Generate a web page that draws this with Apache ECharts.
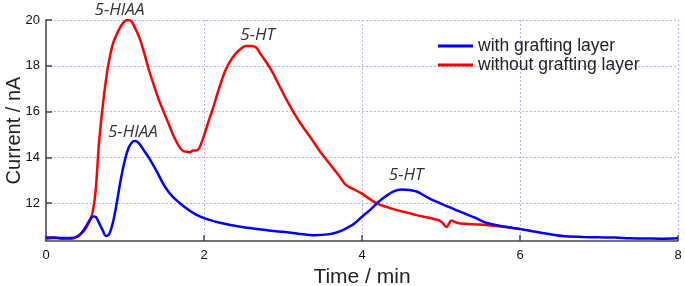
<!DOCTYPE html>
<html><head><meta charset="utf-8">
<script src="https://cdn.jsdelivr.net/npm/echarts@6/dist/echarts.min.js"></script>
<style>html,body{margin:0;padding:0;background:#fff}#c{width:685px;height:286px}</style>
</head><body><div id="c"></div>
<script>
const xTicks = [0, 2, 4, 6, 8];
const yTicks = [12, 14, 16, 18, 20];
const seriesNames = ['with grafting layer', 'without grafting layer'];

const blueT = [0,0.1,0.2,0.3,0.4,0.45,0.5,0.55,0.6,0.63,0.67,0.72,0.76,0.8,0.85,0.9,0.95,1.0,1.05,1.1,1.13,1.18,1.25,1.3,1.4,1.5,1.6,1.75,1.9,2.0,2.2,2.5,2.8,3.0,3.2,3.4,3.59,3.71,3.8,3.9,4.0,4.1,4.19,4.3,4.4,4.5,4.6,4.7,4.85,5.0,5.19,5.3,5.45,5.57,5.8,6.0,6.2,6.54,6.8,7.0,7.2,7.39,7.6,7.8,8.0];
const blueV = [10.5,10.5,10.48,10.48,10.55,10.7,10.95,11.25,11.42,11.4,11.15,10.8,10.57,10.65,11.2,12.1,13.1,13.9,14.45,14.7,14.72,14.6,14.25,14.0,13.4,12.75,12.3,11.85,11.5,11.35,11.15,10.95,10.82,10.75,10.67,10.6,10.65,10.76,10.9,11.1,11.41,11.7,12.0,12.3,12.52,12.6,12.58,12.5,12.21,11.98,11.7,11.55,11.34,11.15,10.98,10.87,10.75,10.57,10.53,10.51,10.5,10.47,10.46,10.45,10.47];

const redT = [0,0.1,0.2,0.3,0.35,0.4,0.45,0.49,0.55,0.59,0.63,0.67,0.72,0.76,0.8,0.85,0.9,0.95,1.0,1.04,1.08,1.12,1.18,1.24,1.3,1.37,1.43,1.5,1.56,1.62,1.69,1.74,1.78,1.82,1.86,1.9,1.94,2.0,2.05,2.1,2.19,2.27,2.36,2.45,2.53,2.6,2.66,2.72,2.8,2.87,2.95,3.04,3.12,3.2,3.28,3.37,3.46,3.55,3.63,3.71,3.78,3.84,3.9,3.97,4.05,4.18,4.3,4.44,4.56,4.69,4.8,4.9,4.98,5.03,5.07,5.1,5.13,5.2,5.3,5.5,5.7,5.85,6.0];
const redV = [10.45,10.48,10.45,10.45,10.47,10.55,10.7,10.83,11.2,11.6,12.6,14.6,16.3,17.4,18.25,19.0,19.4,19.75,19.95,20.0,19.95,19.7,19.25,18.6,17.85,17.1,16.5,15.9,15.4,14.9,14.45,14.27,14.25,14.22,14.3,14.3,14.4,14.95,15.5,16.0,17.0,17.8,18.35,18.7,18.87,18.87,18.8,18.5,18.1,17.7,17.15,16.55,16.05,15.6,15.2,14.76,14.3,13.9,13.55,13.2,12.85,12.7,12.6,12.47,12.3,12.0,11.85,11.7,11.6,11.48,11.4,11.32,11.25,11.1,10.96,11.1,11.24,11.15,11.1,11.07,11.0,10.95,10.87];

const annoBlueText = ['5-HIAA', '5-HT'];
const annoBlueAt = [[1.10, 15.11], [4.56, 13.23]];
const annoRedText = ['5-HIAA', '5-HT'];
const annoRedAt = [[0.93, 20.0], [2.68, 19.35]];
const annoRedShift = [[0, -10], [0, 0]];

const pair = (t, v) => t.map((x, i) => [x, v[i]]);
const anno = (texts, at, shift) => texts.map((s, i) => ({coord: at[i], value: s,
  label: {offset: shift ? shift[i] : [0, 0]}}));
const annoLabel = {show: true, position: 'inside', formatter: p => p.value,
  fontFamily: 'Open Sans', fontStyle: 'italic', fontSize: 17, color: '#333'};

const chart = echarts.init(document.getElementById('c'), null, {renderer: 'canvas'});
const gridLine = {show: true, lineStyle: {color: '#b4b4f4', type: [2, 2], width: 1}};
chart.setOption({
  animation: false,
  textStyle: {fontFamily: 'Liberation Sans'},
  grid: {left: 46, right: 7, top: 20, bottom: 45, containLabel: false, outerBoundsMode: 'none'},
  legend: {
    orient: 'vertical', left: 438, top: 37, padding: 0, itemWidth: 35, itemHeight: 3, itemGap: 1,
    icon: 'rect', textStyle: {fontSize: 17.5, color: '#222', fontFamily: 'Liberation Sans', lineHeight: 18, height: 18},
    data: seriesNames
  },
  xAxis: {
    type: 'value', min: xTicks[0], max: xTicks[xTicks.length - 1], interval: 2,
    name: 'Time / min', nameLocation: 'middle', nameGap: 21,
    nameTextStyle: {fontSize: 21, color: '#222', fontFamily: 'Liberation Sans'},
    axisLine: {lineStyle: {color: '#444', width: 1.5}},
    axisTick: {inside: true, length: 6, lineStyle: {color: '#444', width: 1.5}},
    axisLabel: {fontSize: 13, color: '#111', margin: 8},
    splitLine: gridLine
  },
  yAxis: {
    type: 'value', min: 10.35, max: 20,
    name: 'Current / nA', nameLocation: 'middle', nameGap: 22, nameRotate: 90, nameMoveOverlap: false,
    nameTextStyle: {fontSize: 20, color: '#222', fontFamily: 'Liberation Sans'},
    axisLine: {show: true, lineStyle: {color: '#444', width: 1.5}},
    axisTick: {show: true, inside: true, length: 6, customValues: yTicks, lineStyle: {color: '#444', width: 1.5}},
    axisLabel: {fontSize: 13, color: '#111', margin: 6, customValues: yTicks},
    splitLine: gridLine
  },
  series: [
    {name: seriesNames[0], type: 'line', data: pair(blueT, blueV), showSymbol: false, smooth: 0.3,
     color: '#0000ff', lineStyle: {width: 2.5, color: '#0000ff'}, z: 3,
     markPoint: {symbolSize: 0, label: annoLabel, data: anno(annoBlueText, annoBlueAt)}},
    {name: seriesNames[1], type: 'line', data: pair(redT, redV), showSymbol: false, smooth: 0.3,
     color: '#ff0000', lineStyle: {width: 2.5, color: '#ff0000'}, z: 2,
     markPoint: {symbolSize: 0, label: annoLabel, data: anno(annoRedText, annoRedAt, annoRedShift)}}
  ]
});
</script></body></html>
